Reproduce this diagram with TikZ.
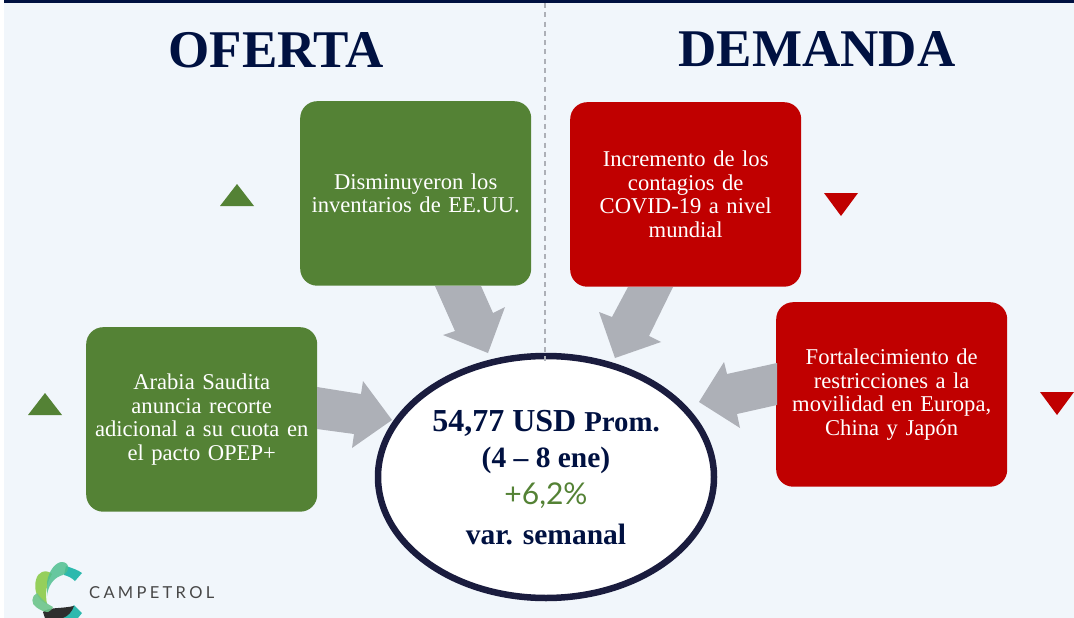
\documentclass[tikz,border=0pt]{standalone}
\usepackage{fontspec}
\setmainfont{Liberation Serif}
\newfontfamily\lat{Lato}
\definecolor{bgblue}{HTML}{F1F6FB}
\definecolor{navy}{HTML}{001141}
\definecolor{ring}{HTML}{1A1C3E}
\definecolor{gbox}{HTML}{548235}
\definecolor{rbox}{HTML}{C00000}
\definecolor{garrow}{HTML}{ADB0B7}
\definecolor{logoteal}{HTML}{2DB9AE}
\definecolor{logogreen}{HTML}{4FBF8F}
\definecolor{logolime}{HTML}{8CCB4A}
\definecolor{logomid}{HTML}{6CC58A}
\tikzset{
 x=1pt,y=-1pt,
 box/.style={rounded corners=17pt,inner sep=0pt,anchor=north west,minimum width=231pt,minimum height=184.5pt,text width=222pt,align=center,text=white,font=\fontsize{22.6}{23.5}\selectfont},
 head/.style={text=navy,font=\fontsize{53}{53}\selectfont\bfseries,inner sep=0pt},
 blockarrow/.style={fill=garrow,draw=none},
 tri/.style={draw=none},
 big/.style={text=navy,inner sep=0pt,font=\bfseries},
}
\begin{document}
\begin{tikzpicture}
\useasboundingbox (0,0) rectangle (1074,618);
\fill[white] (0,0) rectangle (1074,618);
\fill[bgblue] (4,0) rectangle (1074,618);
\fill[navy] (4,0) rectangle (1074,3);
% boxes
\node[box,fill=gbox] (inv) at (300,101) {Disminuyeron los\\inventarios de EE.UU.};
\node[box,fill=rbox] (cov) at (570,102) {Incremento de los\\contagios de\\COVID-19 a nivel\\mundial};
\node[box,fill=rbox] (res) at (776,302) {Fortalecimiento de\\restricciones a la\\movilidad en Europa,\\China y Japón};
\node[box,fill=gbox] (ara) at (86,327) {Arabia Saudita\\anuncia recorte\\adicional a su cuota en\\el pacto OPEP+};
% block arrows
\fill[blockarrow] (435,286)--(481,286)--(493,313)--(505,307)--(488,353)--(443,335)--(455,331)--cycle;
\fill[blockarrow] (628,287)--(673,287)--(649,336)--(661,342)--(615,358)--(599,312)--(612,317)--cycle;
\fill[blockarrow] (777,363)--(727,374)--(724,362)--(699,402)--(740,428)--(737,414)--(777,405)--cycle;
\fill[blockarrow] (317,387)--(361,394)--(363,381)--(392,420)--(352,448)--(354,434)--(317,429)--cycle;
% ellipse
\fill[white,draw=ring,line width=6.5pt] (546,477) ellipse [x radius=168,y radius=121];
\coordinate (dtop) at (545,3);
\coordinate (dbot) at (545,365);
\draw[garrow,line width=1.3pt,dash pattern=on 5pt off 4.3pt] (dtop)--(dbot);
% headings
\node[head] (of) at (276,50) {OFERTA};
\node[head] (de) at (817,49) {DEMANDA};
% ellipse texts
\node[big] (t1) at (546,423) {\fontsize{32}{32}\selectfont 54,77 USD \fontsize{28.8}{29}\selectfont Prom.};
\node[big] (t2) at (546,460) {\fontsize{29.5}{30}\selectfont (4 – 8 ene)};
\node[inner sep=0pt,text=gbox] (t3) at (546,496) {\lat\fontsize{30}{30}\selectfont +6,2\%};
\node[big] (t4) at (546,534) {\fontsize{29.5}{30}\selectfont var. semanal};
% triangles
\fill[gbox,tri] (220,206)--(254,206)--(237,184)--cycle;
\fill[gbox,tri] (28,415)--(62,415)--(45,393)--cycle;
\fill[rbox,tri] (824,193)--(858,193)--(841,216)--cycle;
\fill[rbox,tri] (1040,392)--(1074,392)--(1057,415)--cycle;
% logo
\fill[logoteal] (66,566) .. controls (72,568) and (78,570) .. (82,573) -- (75,581) .. controls (72,578) and (68,576) .. (64,575) --cycle;
\fill[logoteal] (74,605) -- (82,613) -- (78,618) -- (62,618) --cycle;
\fill[black!82] (43,612) .. controls (48,607) and (60,609) .. (74,606) .. controls (72,612) and (68,616) .. (63,618) -- (45,618) --cycle;
\fill[logolime,opacity=.9] (42,572) .. controls (36,574) and (34,584) .. (36,592) .. controls (38,598) and (42,602) .. (47,604) .. controls (45,594) and (46,584) .. (52,574) .. controls (49,571) and (45,571) .. (42,572) --cycle;
\fill[logomid,opacity=.9] (37,593) .. controls (31,596) and (31,604) .. (36,607) .. controls (40,610) and (44,612) .. (48,612) .. controls (51,611) and (52,609) .. (53,607) .. controls (47,604) and (42,600) .. (37,593) --cycle;
\fill[logogreen,opacity=.85] (47,582) .. controls (49,570) and (56,562) .. (62,562) .. controls (66,562) and (69,565) .. (68,569) .. controls (67,573) and (64,575) .. (60,576) .. controls (53,579) and (48,586) .. (47,596) --cycle;
\node[inner sep=0pt,anchor=west,text=black!72] (logo) at (89,593) {\lat\fontsize{16.5}{16.5}\selectfont\addfontfeature{LetterSpace=20}CAMPETROL};
\end{tikzpicture}
\end{document}
